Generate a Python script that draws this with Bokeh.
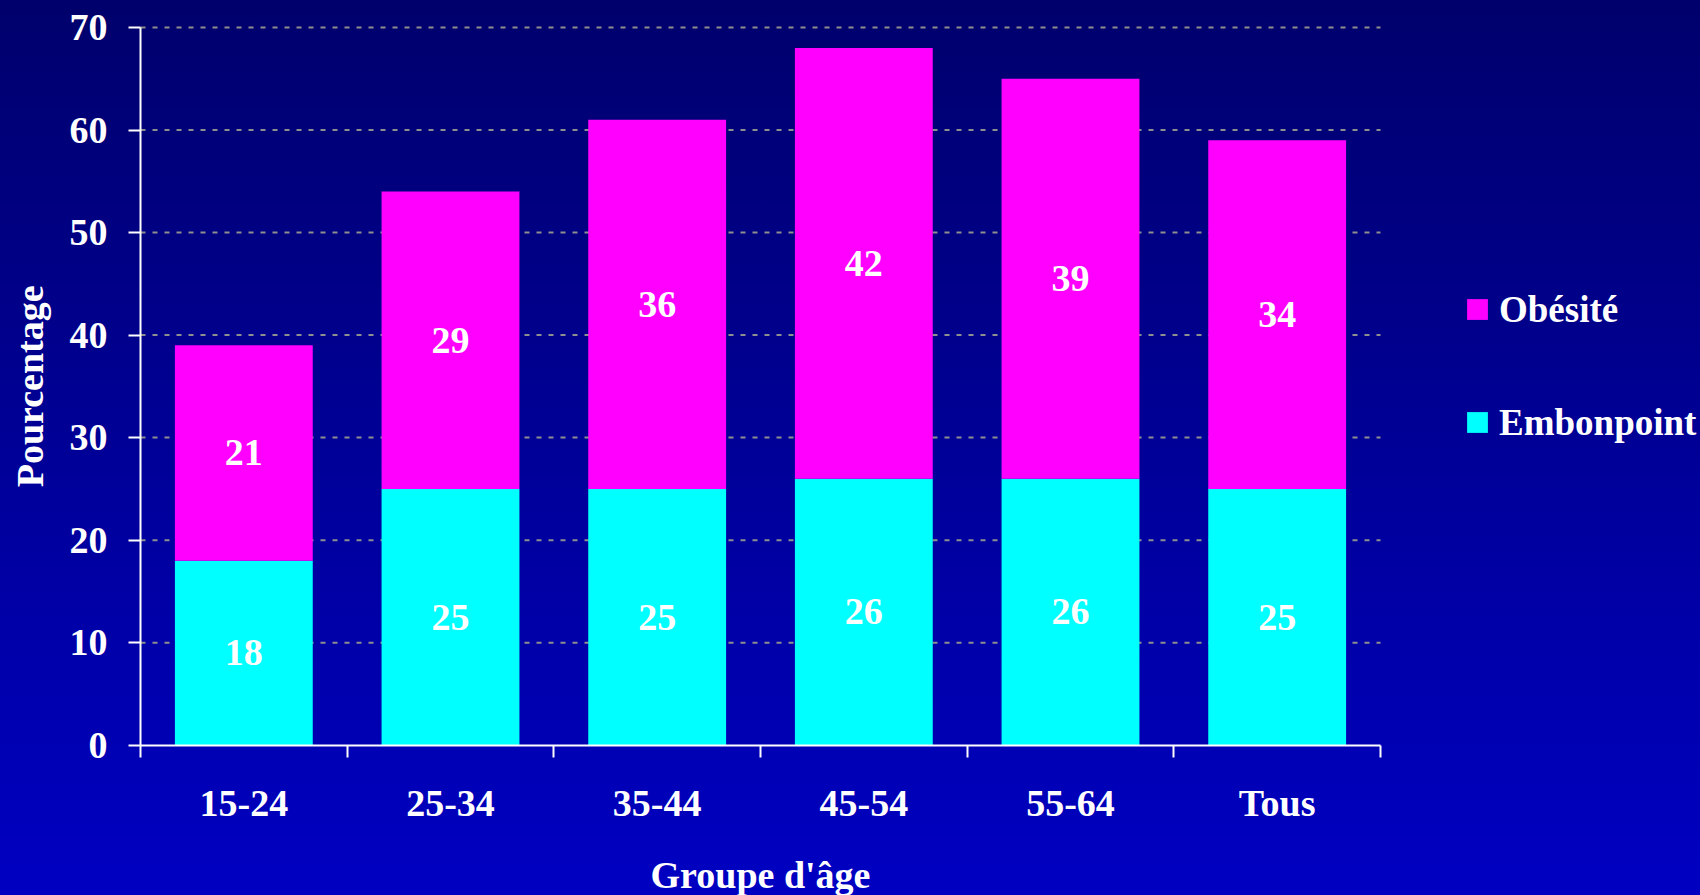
import numpy as np
from bokeh.plotting import figure
from bokeh.models import (Range1d, FixedTicker, Legend, LegendItem, Label,
                          GlobalInlineStyleSheet, ColumnDataSource)
from bokeh.core.properties import value
from bokeh.embed import file_html
from bokeh.resources import INLINE

# ---- data ----
categories = ["15-24", "25-34", "35-44", "45-54", "55-64", "Tous"]
embonpoint = [18, 25, 25, 26, 26, 25]
obesite = [21, 29, 36, 42, 39, 34]
series_names = ["Embonpoint", "Obésité"]
y_ticks = [0, 10, 20, 30, 40, 50, 60, 70]
x_title = "Groupe d'âge"
y_title = "Pourcentage"

FONT = "Liberation Serif"
FS = "38px"
CYAN = "#00FFFF"
MAGENTA = "#FF00FF"

# ---- layout (pixels) ----
W, H = 1700, 895
ORIGIN_X, ORIGIN_Y = 140.0, 744.7      # where (0, 0) sits on the canvas
AXIS_W, AXIS_H = 1240.0, 717.7         # pixel length of the x and y axes

n = len(categories)
ymax = y_ticks[-1]
ux = AXIS_W / n                         # px per category
uy = AXIS_H / ymax                      # px per percent

def px_x(px):   # canvas px -> data x
    return (px - ORIGIN_X) / ux

def px_y(py):   # canvas px (from top) -> data y
    return (ORIGIN_Y - py) / uy

xs = np.arange(n) + 0.5
emb = np.array(embonpoint, dtype=float)
obe = np.array(obesite, dtype=float)
src = ColumnDataSource(dict(x=xs, emb=emb, obe=obe))

p = figure(width=W, height=H,
           x_range=Range1d(px_x(0), px_x(W)), y_range=Range1d(px_y(H), px_y(0)),
           output_backend="svg", toolbar_location=None,
           min_border_left=0, min_border_right=0,
           min_border_top=0, min_border_bottom=0)
p.background_fill_color = None
p.border_fill_color = None
p.outline_line_color = None
p.stylesheets = [GlobalInlineStyleSheet(css="""
html { height: 100%; background: linear-gradient(to bottom, #00006C 0%, #0000C2 100%); }
body { background: transparent; }
""")]

# grid (limited to the category span)
p.xgrid.visible = False
p.ygrid.visible = False
gy = [float(t) for t in y_ticks[1:]]
p.segment(x0=[0.0] * len(gy), x1=[float(n)] * len(gy), y0=gy, y1=gy,
          line_color="#8f8f8f", line_width=2, line_dash="5 7", level="underlay")

# bars
rs = p.vbar_stack(["emb", "obe"], x="x", width=0.667, color=[CYAN, MAGENTA],
                  line_color=None, source=src)

# bar value labels
lab_src = ColumnDataSource(dict(
    x=np.concatenate([xs, xs]),
    y=np.concatenate([emb / 2, emb + obe / 2]),
    t=[str(int(v)) for v in embonpoint] + [str(int(v)) for v in obesite]))
p.text(x="x", y="y", text="t", source=lab_src, text_font=value(FONT),
       text_font_style="bold", text_font_size=FS, text_color="white",
       text_align="center", text_baseline="middle")

# axes, pinned at the data origin
for ax in (p.xaxis[0], p.yaxis[0]):
    ax.fixed_location = 0
    ax.axis_line_color = "white"
    ax.axis_line_width = 2
    ax.major_label_text_font = FONT
    ax.major_label_text_font_style = "bold"
    ax.major_label_text_font_size = FS
    ax.major_label_text_color = "white"

xa = p.xaxis[0]
xa.bounds = (0, n)
xa.ticker = FixedTicker(ticks=list(xs), minor_ticks=list(range(n + 1)))
xa.major_label_overrides = {float(x): c for x, c in zip(xs, categories)}
xa.major_tick_line_color = None
xa.major_tick_out = 0
xa.major_tick_in = 0
xa.minor_tick_line_color = "white"
xa.minor_tick_line_width = 2
xa.minor_tick_out = 12
xa.minor_tick_in = 0
xa.major_label_standoff = 25

ya = p.yaxis[0]
ya.bounds = (y_ticks[0], ymax)
ya.ticker = FixedTicker(ticks=y_ticks)
ya.major_tick_line_color = "white"
ya.major_tick_line_width = 2
ya.major_tick_out = 12
ya.major_tick_in = 0
ya.minor_tick_line_color = None
ya.major_label_standoff = 21

# axis titles
p.add_layout(Label(x=n / 2, y=px_y(874), text=x_title, text_font=FONT,
                   text_font_style="bold", text_font_size=FS, text_color="white",
                   text_align="center", text_baseline="middle"))
p.add_layout(Label(x=px_x(29), y=ymax / 2, text=y_title, angle=np.pi / 2,
                   text_font=FONT, text_font_style="bold", text_font_size=FS,
                   text_color="white", text_align="center", text_baseline="middle"))

# legend
legend = Legend(items=[LegendItem(label=series_names[1], renderers=[rs[1]]),
                       LegendItem(label=series_names[0], renderers=[rs[0]])],
                location=(1464, 301 + H - ORIGIN_Y), padding=0, margin=0,
                border_line_color=None, background_fill_alpha=0,
                glyph_width=26, glyph_height=26, label_standoff=9, spacing=70,
                label_text_font=FONT, label_text_font_style="bold",
                label_text_font_size="37px", label_text_color="white")
p.add_layout(legend)

open("out.html", "w").write(file_html(p, INLINE))
